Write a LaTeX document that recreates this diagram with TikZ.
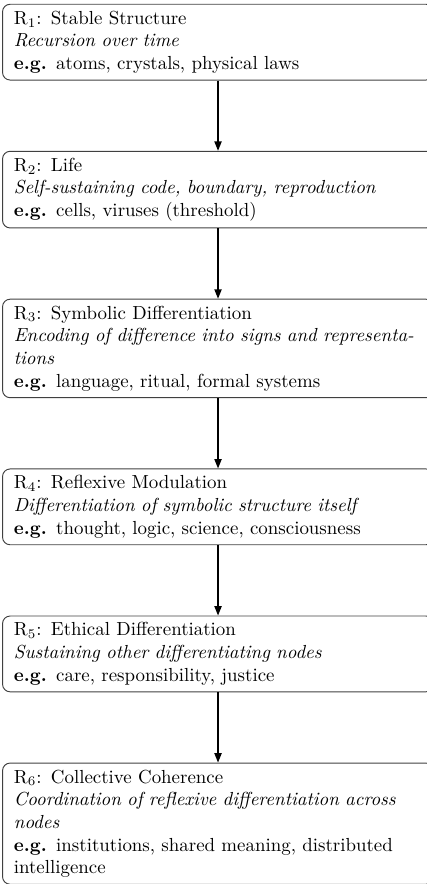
\documentclass[tikz,border=0pt]{standalone}
\usetikzlibrary{positioning,arrows.meta}
\begin{document}
\begin{tikzpicture}[
  stagebox/.style={draw=black!75, line width=0.5pt, rounded corners=4pt, text width=216pt, align=left,
    inner xsep=6pt, inner ysep=3.5pt, font=\normalsize},
  flow/.style={line width=0.8pt, -{Triangle[length=5pt,width=3.8pt]}},
  node distance=37.2pt
]
\useasboundingbox (-1.1pt,0) rectangle (224.3pt,-467.7pt);
\node[stagebox, anchor=north west] (r1) at (0,-2pt)
  {R$_1$: Stable Structure\\ \textit{Recursion over time}\\ \textbf{e.g.} atoms, crystals, physical laws};
\node[stagebox, below=of r1] (r2)
  {R$_2$: Life\\ \textit{Self-sustaining code, boundary, reproduction}\\ \textbf{e.g.} cells, viruses (threshold)};
\node[stagebox, below=of r2] (r3)
  {R$_3$: Symbolic Differentiation\\ \textit{Encoding of difference into signs and representations}\\ \textbf{e.g.} language, ritual, formal systems};
\node[stagebox, below=of r3] (r4)
  {R$_4$: Reflexive Modulation\\ \textit{Differentiation of symbolic structure itself}\\ \textbf{e.g.} thought, logic, science, consciousness};
\node[stagebox, below=of r4] (r5)
  {R$_5$: Ethical Differentiation\\ \textit{Sustaining other differentiating nodes}\\ \textbf{e.g.} care, responsibility, justice};
\node[stagebox, below=of r5] (r6)
  {R$_6$: Collective Coherence\\ \textit{Coordination of reflexive differentiation across nodes}\\ \textbf{e.g.} institutions, shared meaning, distributed intelligence};
\draw[flow] (r1) -- (r2);
\draw[flow] (r2) -- (r3);
\draw[flow] (r3) -- (r4);
\draw[flow] (r4) -- (r5);
\draw[flow] (r5) -- (r6);
\end{tikzpicture}
\end{document}
